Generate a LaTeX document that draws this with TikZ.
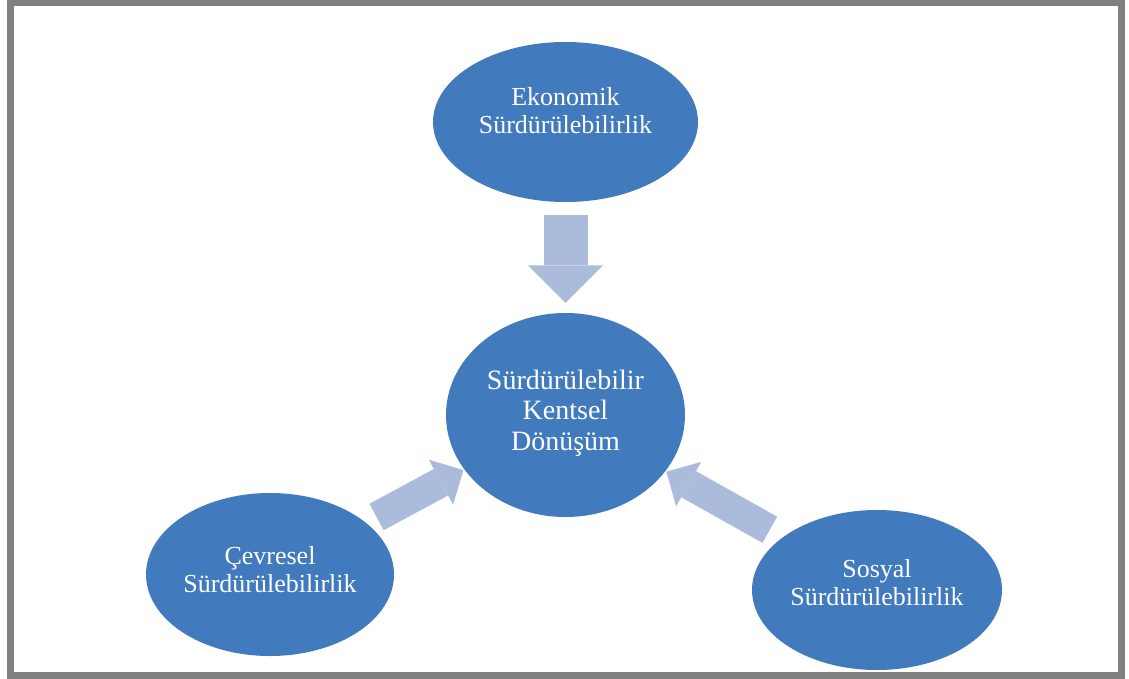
\documentclass[tikz,border=0pt]{standalone}
\usepackage{fontspec}
\setmainfont{Liberation Serif}
\usetikzlibrary{shapes.geometric,arrows.meta}

\definecolor{blobblue}{RGB}{65,122,189}
\definecolor{paleblue}{RGB}{170,187,219}
\definecolor{framegray}{RGB}{128,128,128}

\tikzset{
  blob/.style={ellipse,fill=blobblue,inner sep=0pt},
  lbl/.style={text=white,align=center,font=\fontsize{26}{28}\selectfont},
  flow/.style={draw=paleblue,line width=#1,line cap=butt,
    -{Triangle[width=0pt 1.7,length=0pt 0.85,line width=0pt,fill=paleblue]}}
}

\begin{document}
\begin{tikzpicture}[x=1pt,y=-1pt]
				\useasboundingbox (0,0) rectangle (1129,679);
				\draw [framegray,line width=7pt] (10,2.5) rectangle (1121,675);
				% the four ellipses
				\node [blob,minimum width=265pt,minimum height=160pt] (eko) at (565.5,122) {};
				\node [blob,minimum width=239pt,minimum height=204pt] (skd) at (565.5,415) {};
				\node [blob,minimum width=248pt,minimum height=163pt] (cev) at (270,574.5) {};
				\node [blob,minimum width=250pt,minimum height=160pt] (sos) at (877,590) {};
				\node [lbl] (ekot) at ([yshift=11pt]eko) {Ekonomik\\Sürdürülebilirlik};
				\node [lbl,font=\fontsize{28}{30.5}\selectfont] (skdt) at ([yshift=2pt]skd) {Sürdürülebilir\\Kentsel\\Dönüşüm};
				\node [lbl] (cevt) at ([yshift=5pt]cev) {Çevresel\\Sürdürülebilirlik};
				\node [lbl] (sost) at ([yshift=7.5pt]sos) {Sosyal\\Sürdürülebilirlik};
				% block arrows
				\draw [flow=44pt,shorten <=13pt,shorten >=10pt] (eko) -- (skd);
				\draw [flow=30pt,shorten <=12pt,shorten >=1pt] (cev) -- (skd);
				\draw [flow=30pt,shorten <=15pt,shorten >=1pt] (sos) -- (skd);
			\end{tikzpicture}
\end{document}
